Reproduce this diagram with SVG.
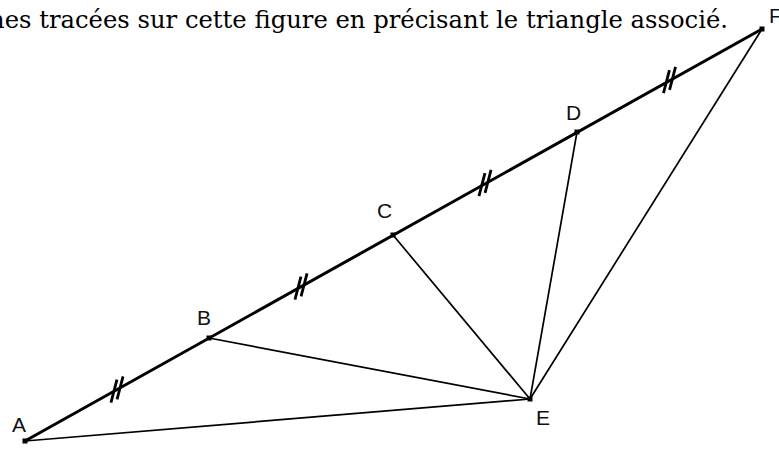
<svg xmlns="http://www.w3.org/2000/svg" width="779" height="450" viewBox="0 0 779 450">
<style>
.txt{font-family:"DejaVu Serif","Liberation Serif",serif;font-size:25px;fill:#000}
.lbl{font-family:"Liberation Sans",Arial,sans-serif;font-size:21px;fill:#111}
.main{stroke:#000;stroke-width:3;fill:none;stroke-linecap:round}
.seg{stroke:#000;stroke-width:1.7;fill:none;stroke-linecap:round}
.tick{stroke:#000;stroke-width:2.8;fill:none}
.pt{fill:#000}
</style>
<rect width="779" height="450" fill="#fff"/>
<text class="txt" x="-11" y="28" textLength="739" lengthAdjust="spacingAndGlyphs">nes tracées sur cette figure en précisant le triangle associé.</text>
<g id="connectors">
<line class="main" x1="25" y1="441" x2="762" y2="29"/>
<line class="seg" x1="25" y1="441" x2="530" y2="399"/>
<line class="seg" x1="209" y1="338" x2="530" y2="399"/>
<line class="seg" x1="393" y1="235" x2="530" y2="399"/>
<line class="seg" x1="577" y1="132" x2="530" y2="399"/>
<line class="seg" x1="762" y1="29" x2="530" y2="399"/>
</g>
<g id="ticks">
<path class="tick" d="M110.95 402.7 L116.95 379.7 M117.05 399.3 L123.05 376.3"/>
<path class="tick" d="M294.95 299.7 L300.95 276.7 M301.05 296.3 L307.05 273.3"/>
<path class="tick" d="M478.95 196.2 L484.95 173.2 M485.05 192.8 L491.05 169.8"/>
<path class="tick" d="M663.45 93.2 L669.45 70.2 M669.55 89.8 L675.55 66.8"/>
</g>
<g id="A"><rect class="pt" x="22.5" y="438.5" width="5" height="5"/><text class="lbl" x="12" y="432">A</text></g>
<g id="B"><rect class="pt" x="206.5" y="335.5" width="5" height="5"/><text class="lbl" x="197" y="325">B</text></g>
<g id="C"><rect class="pt" x="390.5" y="232.5" width="5" height="5"/><text class="lbl" x="377" y="218">C</text></g>
<g id="D"><rect class="pt" x="574.5" y="129.5" width="5" height="5"/><text class="lbl" x="566" y="120">D</text></g>
<g id="E"><rect class="pt" x="527.5" y="396.5" width="5" height="5"/><text class="lbl" x="536" y="425">E</text></g>
<g id="F"><rect class="pt" x="759.5" y="26.5" width="5" height="5"/><text class="lbl" x="769" y="23">F</text></g>
</svg>
